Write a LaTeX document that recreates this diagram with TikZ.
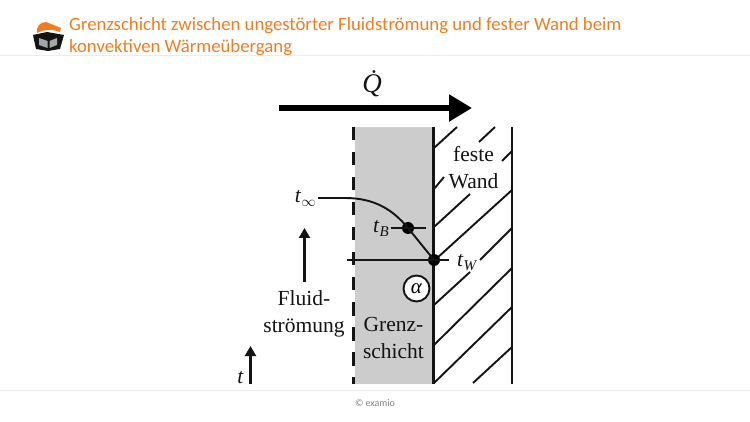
\documentclass[tikz,border=0pt]{standalone}
\usepackage{fontspec}
\setmainfont{Liberation Serif}
\newfontfamily\titlefont{Carlito}
\usepackage{tikz}
\usetikzlibrary{arrows.meta,positioning,calc}
\usepackage{xcolor}
\definecolor{primary}{RGB}{244,124,32}
\definecolor{layer}{RGB}{204,204,204}
\definecolor{rulegray}{RGB}{236,236,236}
\definecolor{inkdark}{RGB}{20,20,20}
\newcommand{\tsub}[1]{\textit{t}\raisebox{-4pt}{\fontsize{15}{15}\selectfont\textit{#1}}}
\begin{document}
\begin{tikzpicture}[x=1pt,y=-1pt,
        label/.style={font=\fontsize{21.5}{27}\selectfont, inner sep=0pt, align=center, text=inkdark},
        wall/.style={line width=2.1pt, inkdark},
        hatch/.style={line width=1.9pt, inkdark},
        thin line/.style={line width=1.5pt, inkdark},
        flow/.style={-{Triangle[length=10pt,width=11pt]}, line width=2.1pt, inkdark},
        point/.style={circle, fill=black, minimum size=12pt, inner sep=0pt},
        divider/.style={line width=1pt, rulegray}
      ]
        \useasboundingbox (0,0) rectangle (750,422);
        \fill[white] (0,0) rectangle (750,422);

        % header and footer
        \node[anchor=north west, inner sep=0pt, text=primary, align=left,
              font=\titlefont\fontsize{18.75}{21.5}\selectfont] (title) at (69,17.5)
              {Grenzschicht zwischen ungestörter Fluidströmung und fester Wand beim\\konvektiven Wärmeübergang};
        \draw[divider] (0,56) -- (750,56);
        \draw[divider] (0,390.5) -- (750,390.5);
        \node[font=\titlefont\fontsize{10}{11}\selectfont, text=black!50, inner sep=0pt] (copy) at (375,403) {© examio};

        % logo
        \fill[primary] (37,33) .. controls (36,27) and (40,22) .. (46,22) -- (61,28) -- (60,32) .. controls (52,29) and (44,29) .. (37,33) -- cycle;
        \fill[inkdark] (33,35) -- (47,32) -- (64,35) -- (60,49) -- (48,51) -- (36,49) -- cycle;
        \fill[black!35] (39,38) -- (47.5,41) -- (47.5,48) -- (39,45) -- cycle;
        \fill[black!35] (57,38) -- (49.5,41) -- (49.5,48) -- (57,45) -- cycle;

        % boundary layer and wall
        \fill[layer] (355,127) rectangle (433,384);
        \draw[wall, dash pattern=on 13.5pt off 11.5pt] (353.5,127) -- (353.5,384);
        \draw[wall] (433.5,127) -- (433.5,384);
        \draw[wall] (512,127) -- (512,384);
        \foreach \xa/\ya/\xb/\yb in {434/148/457/127, 479/142/495/127, 502/161/512/151,
            434/189/444/177, 434/227/470/194, 436/259/512/190, 480/260/512/228,
            434/305/470/272, 434/345/512/268, 434/383/512/307, 473/383/512/347}
          \draw[hatch] (\xa,\ya) -- (\xb,\yb);

        % heat flow
        \node[label, font=\fontsize{27}{27}\selectfont] (heat) at (376,84) {\textit{\.{Q}}};
        \coordinate (heatstart) at (279,108);
        \coordinate (heatend) at (472,108);
        \draw[-{Triangle[length=23pt,width=26pt]}, line width=5.5pt, black] (heatstart) -- (heatend);

        % temperature profile
        \node[label, anchor=east] (tinf) at (316,198) {\textit{t}\raisebox{-4pt}{\fontsize{15}{15}\selectfont$\infty$}};
        \node[point] (tbpoint) at (408,228) {};
        \node[point] (twpoint) at (434,260) {};
        \node[label, anchor=east] (tb) at (389,228) {\tsub{B}};
        \node[label, anchor=west] (tw) at (457,263) {\tsub{W}};
        \coordinate (tbleft) at (391,228);
        \coordinate (tbright) at (426,228);
        \coordinate (twleft) at (347,260);
        \coordinate (twright) at (449,260);
        \draw[thin line, line width=1.9pt] (318,198) -- (345,198) .. controls (375,198) and (393,210) .. (tbpoint.center) -- (twpoint.center);
        \draw[thin line] (tbleft) -- (tbright);
        \draw[thin line] (twleft) -- (twright);
        \node[circle, draw=inkdark, line width=1.9pt, fill=white, minimum size=26pt, inner sep=0pt,
              font=\fontsize{21}{22}\selectfont] (alpha) at (416.5,288.5) {\textit{α}};

        % labels
        \node[label] (wandlabel) at (473.5,168) {feste\\Wand};
        \node[label] (schicht) at (393.5,338) {Grenz-\\schicht};
        \node[label] (fluid) at (304,314) {Fluid-\\strömung};
        \coordinate (fluidstart) at (304.5,282);
        \coordinate (fluidend) at (304.5,228);
        \draw[flow] (fluidstart) -- (fluidend);
        \node[label, anchor=east] (tlabel) at (244,378) {\textit{t}};
        \coordinate (tstart) at (250.5,384);
        \coordinate (tend) at (250.5,346);
        \draw[flow] (tstart) -- (tend);
      \end{tikzpicture}
\end{document}
